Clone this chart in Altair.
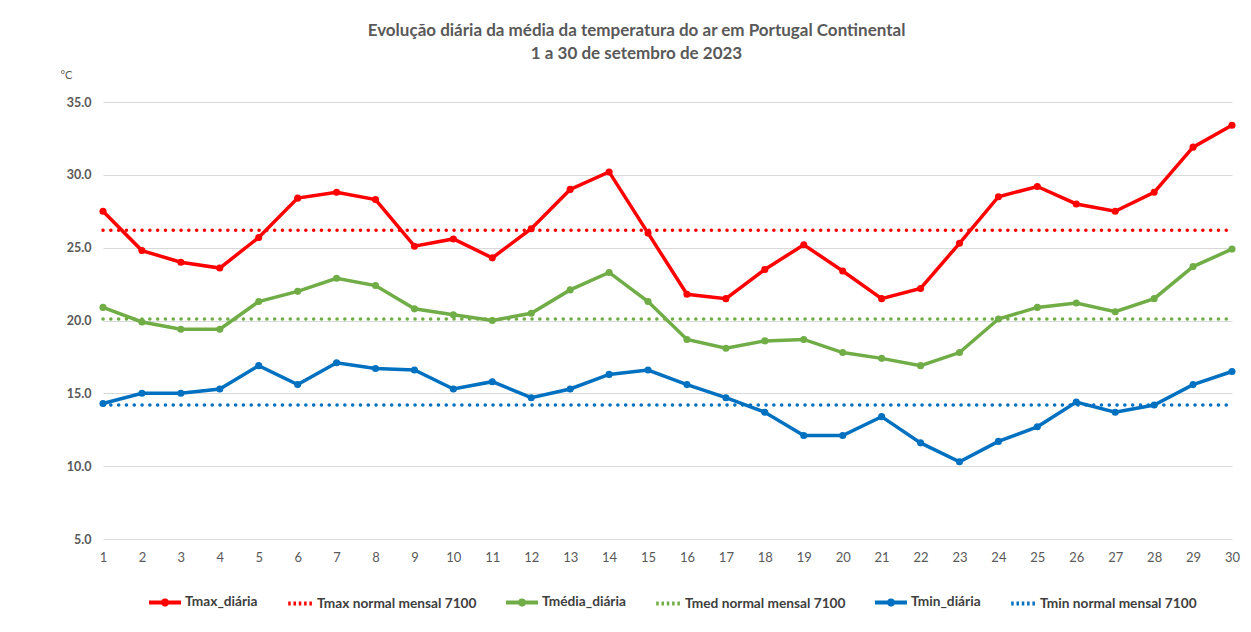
import altair as alt
import pandas as pd

days = list(range(1, 31))

tmax_diaria = [27.5, 24.8, 24.0, 23.6, 25.7, 28.4, 28.8, 28.3, 25.1, 25.6,
               24.3, 26.3, 29.0, 30.2, 26.0, 21.8, 21.5, 23.5, 25.2, 23.4,
               21.5, 22.2, 25.3, 28.5, 29.2, 28.0, 27.5, 28.8, 31.9, 33.4]
tmedia_diaria = [20.9, 19.9, 19.4, 19.4, 21.3, 22.0, 22.9, 22.4, 20.8, 20.4,
                 20.0, 20.5, 22.1, 23.3, 21.3, 18.7, 18.1, 18.6, 18.7, 17.8,
                 17.4, 16.9, 17.8, 20.1, 20.9, 21.2, 20.6, 21.5, 23.7, 24.9]
tmin_diaria = [14.3, 15.0, 15.0, 15.3, 16.9, 15.6, 17.1, 16.7, 16.6, 15.3,
               15.8, 14.7, 15.3, 16.3, 16.6, 15.6, 14.7, 13.7, 12.1, 12.1,
               13.4, 11.6, 10.3, 11.7, 12.7, 14.4, 13.7, 14.2, 15.6, 16.5]

tmax_normal = 26.2
tmed_normal = 20.1
tmin_normal = 14.2

series_names = ["Tmax_diária", "Tmax normal mensal 7100",
                "Tmédia_diária", "Tmed normal mensal 7100",
                "Tmin_diária", "Tmin normal mensal 7100"]
series_colors = ["#FF0000", "#FF0000", "#70AD47", "#70AD47", "#0070C0", "#0070C0"]

y_ticks = [5, 10, 15, 20, 25, 30, 35]

rows = []
for d, a, b, c in zip(days, tmax_diaria, tmedia_diaria, tmin_diaria):
    rows.append({"dia": d, "valor": a, "serie": series_names[0], "tipo": "diaria"})
    rows.append({"dia": d, "valor": b, "serie": series_names[2], "tipo": "diaria"})
    rows.append({"dia": d, "valor": c, "serie": series_names[4], "tipo": "diaria"})
    rows.append({"dia": d, "valor": tmax_normal, "serie": series_names[1], "tipo": "normal"})
    rows.append({"dia": d, "valor": tmed_normal, "serie": series_names[3], "tipo": "normal"})
    rows.append({"dia": d, "valor": tmin_normal, "serie": series_names[5], "tipo": "normal"})
df = pd.DataFrame(rows)

FONT = "Lato"
GREY = "#595959"

x_enc = alt.X("dia:Q",
              scale=alt.Scale(domain=[1, 30], nice=False, zero=False),
              axis=alt.Axis(values=days, title=None, grid=False, domain=False,
                            ticks=False, labelPadding=12, labelFontSize=13,
                            labelFlush=False, labelBound=False,
                            labelColor=GREY, labelFont=FONT, format="d"))
y_enc = alt.Y("valor:Q",
              scale=alt.Scale(domain=[5, 35], nice=False, zero=False),
              axis=alt.Axis(values=y_ticks, format=".1f", title="°C",
                            titleAngle=0, titleX=-43, titleY=-27,
                            titleAlign="left", titleBaseline="middle",
                            titleFontWeight="normal", titleFontSize=11,
                            titleColor=GREY, titleFont=FONT,
                            domain=False, ticks=False, labelPadding=12,
                            labelFontSize=12.5, labelFontWeight="bold",
                            labelColor=GREY, labelFont=FONT,
                            grid=True, gridColor="#D9D9D9", gridWidth=1))

dot_path = "M-1,0H1M-0.13,0A0.13,0.13,0,1,1,0.13,0A0.13,0.13,0,1,1,-0.13,0Z"
dash_path = "M-0.55,0H1"

color_enc = alt.Color(
    "serie:N",
    scale=alt.Scale(domain=series_names, range=series_colors),
    legend=alt.Legend(
        title=None, orient="none", direction="horizontal",
        legendX=44, legendY=482,
        columnPadding=21, labelFont=FONT, labelFontSize=13.7, labelLimit=0,
        labelFontWeight="bold", labelColor="#404040", labelOffset=2,
        symbolSize=1024, symbolStrokeWidth=4,
        symbolType=alt.ExprRef("indexof(datum.value,'normal')>=0 ? '" + dash_path + "' : '" + dot_path + "'"),
        symbolDash=alt.ExprRef("indexof(datum.value,'normal')>=0 ? [2.5,2.8] : [1,0]"),
        symbolFillColor=alt.ExprRef("scale('color', datum.value)"),
    ),
)

normal = alt.Chart(df).transform_filter(alt.datum.tipo == "normal").mark_line(
    strokeWidth=3.5, strokeDash=[0.1, 7.7], strokeCap="round"
).encode(x=x_enc, y=y_enc, color=color_enc, detail="serie:N")

diaria = alt.Chart(df).transform_filter(alt.datum.tipo == "diaria").mark_line(
    strokeWidth=3.5,
    point=alt.OverlayMarkDef(size=50, filled=True, opacity=1),
).encode(x=x_enc, y=y_enc, color=color_enc, detail="serie:N")

chart = alt.layer(normal, diaria).properties(
    width=1129, height=437,
    autosize=alt.AutoSizeParams(type="none"),
    padding={"left": 95, "top": 94, "right": 11, "bottom": 85},
    title=alt.TitleParams(
        text=["Evolução diária da média da temperatura do ar em Portugal Continental",
              "1 a 30 de setembro de 2023"],
        anchor="middle", dx=-31, offset=6, fontSize=17, fontWeight="bold",
        color=GREY, font=FONT, lineHeight=23,
    ),
).configure_view(stroke=None)

chart.save("out.html", embed_options={"renderer": "svg", "actions": False})
